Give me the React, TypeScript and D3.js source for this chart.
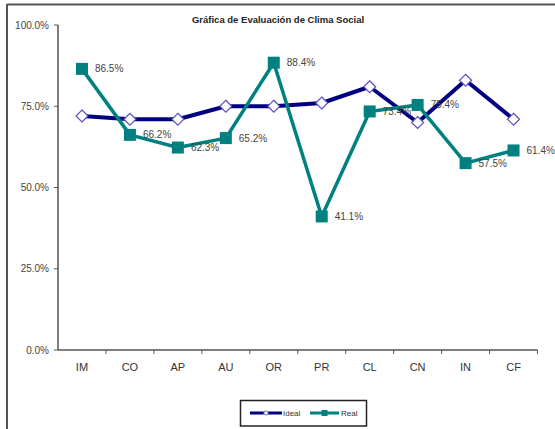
import React from "react";
import * as d3 from "d3";

const categories = ["IM", "CO", "AP", "AU", "OR", "PR", "CL", "CN", "IN", "CF"];
const idealValues = [0.72, 0.71, 0.71, 0.75, 0.75, 0.76, 0.81, 0.70, 0.83, 0.71];
const realValues = [0.865, 0.662, 0.623, 0.652, 0.884, 0.411, 0.734, 0.754, 0.575, 0.614];
const yTicks = [0, 0.25, 0.5, 0.75, 1.0];
const seriesNames = ["Ideal", "Real"];

const W = 555;
const H = 429;
const FONT = "'Liberation Sans', Arial, sans-serif";

export default function App() {
  const x = d3.scaleBand<string>().domain(categories).range([58, 537.5]);
  const y = d3.scaleLinear().domain([0, 1]).range([350, 25]);
  const cx = (c: string) => (x(c) as number) + x.bandwidth() / 2;
  const line = d3
    .line<number>()
    .x((_, i) => cx(categories[i]))
    .y((d) => y(d));
  const pct = d3.format(".1%");

  return (
    <svg
      width={W}
      height={H}
      style={{ position: "absolute", left: 0, top: 0, background: "#fff" }}
      fontFamily={FONT}
    >
      <rect x={0} y={0} width={W} height={H} fill="#fff" />
      {/* outer frame */}
      <line x1={7} x2={W} y1={4.5} y2={4.5} stroke="#555" strokeWidth={2} />
      <line x1={7} x2={7} y1={4} y2={H} stroke="#555" strokeWidth={2} />

      {/* title */}
      <text x={278} y={23} textAnchor="middle" fontSize={9.5} fontWeight="bold" fill="#222">
        Gráfica de Evaluación de Clima Social
      </text>

      {/* y axis */}
      <line x1={58} x2={58} y1={25} y2={350} stroke="#555" strokeWidth={1.5} />
      {yTicks.map((t) => (
        <g key={t}>
          <line x1={54} x2={58} y1={y(t)} y2={y(t)} stroke="#555" strokeWidth={1} />
          <text x={49} y={y(t)} dy="0.35em" textAnchor="end" fontSize={10} fill="#444">
            {pct(t)}
          </text>
        </g>
      ))}

      {/* x axis */}
      <line x1={58} x2={537.5} y1={350} y2={350} stroke="#555" strokeWidth={1.5} />
      {categories.map((c, i) => (
        <g key={c}>
          <line
            x1={(x(c) as number) + x.bandwidth()}
            x2={(x(c) as number) + x.bandwidth()}
            y1={350}
            y2={354}
            stroke="#555"
            strokeWidth={1}
          />
          <text x={cx(c)} y={367} dy="0.35em" textAnchor="middle" fontSize={11} fill="#333">
            {c}
          </text>
        </g>
      ))}

      {/* Ideal series */}
      <path d={line(idealValues) || ""} fill="none" stroke="#000080" strokeWidth={4} strokeLinejoin="round" />
      {idealValues.map((v, i) => {
        const px = cx(categories[i]);
        const py = y(v);
        return (
          <path
            key={"i" + i}
            d={`M${px},${py - 6}L${px + 6},${py}L${px},${py + 6}L${px - 6},${py}Z`}
            fill="#fff"
            stroke="#5a50c0"
            strokeWidth={1.2}
          />
        );
      })}

      {/* Real series */}
      <path d={line(realValues) || ""} fill="none" stroke="#008080" strokeWidth={3.5} strokeLinejoin="round" />
      {realValues.map((v, i) => {
        const px = cx(categories[i]);
        const py = y(v);
        return (
          <g key={"r" + i}>
            <rect x={px - 6} y={py - 6} width={12} height={12} fill="#008080" />
            <text x={px + 13} y={py} dy="0.35em" fontSize={10} fill="#444">
              {pct(v)}
            </text>
          </g>
        );
      })}

      {/* legend */}
      <rect x={240.5} y={400.5} width={126} height={25.5} fill="#fff" stroke="#222" strokeWidth={1.5} />
      <line x1={250} x2={282} y1={413} y2={413} stroke="#000080" strokeWidth={3} />
      <path d="M266,410.5L268.5,413L266,415.5L263.5,413Z" fill="#fff" stroke="#5a50c0" strokeWidth={0.8} />
      <text x={283} y={413} dy="0.35em" fontSize={8} fill="#333">
        {seriesNames[0]}
      </text>
      <line x1={310} x2={339} y1={413} y2={413} stroke="#008080" strokeWidth={3} />
      <rect x={321.5} y={410} width={6} height={6} fill="#008080" />
      <text x={341} y={413} dy="0.35em" fontSize={8} fill="#333">
        {seriesNames[1]}
      </text>
    </svg>
  );
}
